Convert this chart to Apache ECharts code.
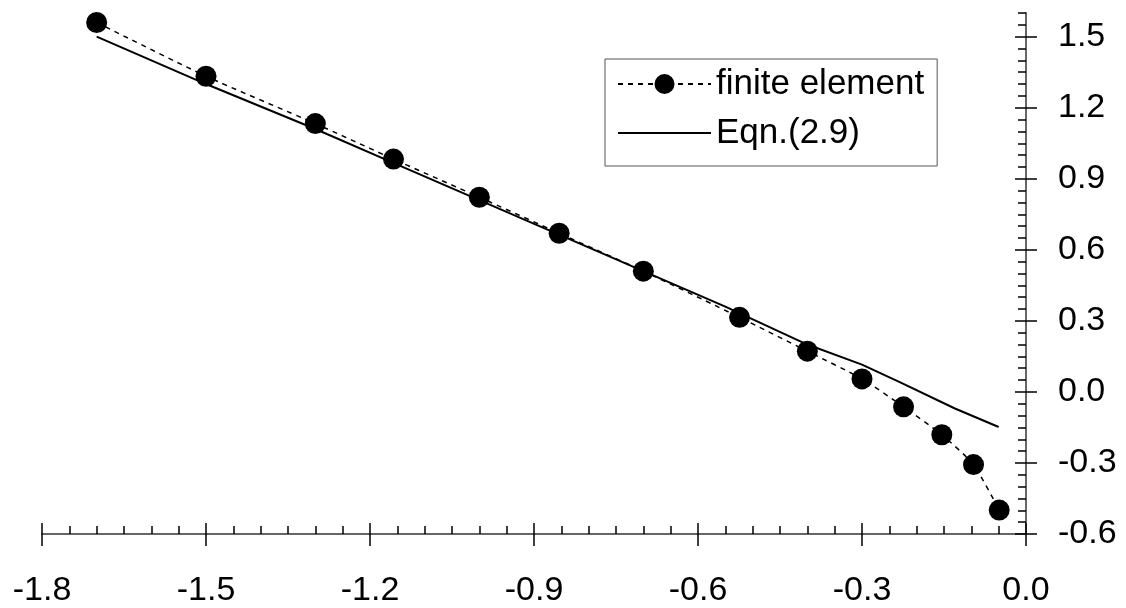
<!DOCTYPE html>
<html>
<head>
<meta charset="utf-8">
<script src="https://cdn.jsdelivr.net/npm/echarts@6/dist/echarts.min.js"></script>
<style>
html, body { margin: 0; padding: 0; background: #fff; }
#main { width: 1126px; height: 608px; }
</style>
</head>
<body>
<div id="main"></div>
<script>
// finite element results (dotted line with dots)
var fe_x = [-1.70, -1.50, -1.30, -1.157, -1.00, -0.854, -0.70, -0.524, -0.40, -0.30, -0.224, -0.154, -0.096, -0.049]
var fe_y = [1.560, 1.333, 1.133, 0.983, 0.822, 0.670, 0.510, 0.315, 0.172, 0.055, -0.063, -0.181, -0.307, -0.499]

// Eqn.(2.9) curve (solid line)
var eq_x = [-1.70, -1.50, -1.30, -1.15, -1.00, -0.85, -0.70, -0.55, -0.40, -0.30, -0.23, -0.13, -0.05]
var eq_y = [1.50, 1.30, 1.11, 0.96, 0.81, 0.66, 0.51, 0.36, 0.20, 0.115, 0.04, -0.07, -0.148]

// major tick values
var x_ticks = [-1.8, -1.5, -1.2, -0.9, -0.6, -0.3, 0.0]
var y_ticks = [-0.6, -0.3, 0.0, 0.3, 0.6, 0.9, 1.2, 1.5]

var font = 'Liberation Sans, Arial, sans-serif'

function pairs(xs, ys) {
    var out = []
    for (var i = 0; i < xs.length; i++) {
        out.push([xs[i], ys[i]])
    }
    return out
}

function fmt(v) {
    return (Math.abs(v) < 1e-9 ? 0 : v).toFixed(1)
}

function x_axis(extra) {
    var a = {
        type: 'value',
        min: -1.8,
        max: 0,
        position: 'bottom',
        axisLine: { show: false, onZero: false },
        axisTick: { show: false },
        axisLabel: { show: false },
        splitLine: { show: false }
    }
    return Object.assign(a, extra)
}

function y_axis(extra) {
    var a = {
        type: 'value',
        min: -0.6,
        max: 1.6,
        position: 'right',
        axisLine: { show: false, onZero: false },
        axisTick: { show: false },
        axisLabel: { show: false },
        splitLine: { show: false }
    }
    return Object.assign(a, extra)
}

var myChart = echarts.init(document.getElementById('main'))

var option = {
    backgroundColor: '#fff',
    animation: false,
    grid: { left: 42, right: 100, top: 13, bottom: 74 },
    legend: {
        orient: 'vertical',
        left: 605,
        top: 59,
        padding: [5, 13, 13, 12],
        itemWidth: 93,
        itemHeight: 25,
        itemGap: 9,
        borderColor: '#555',
        borderWidth: 1,
        textStyle: { fontFamily: font, fontSize: 35, color: '#000', lineHeight: 40 },
        data: [
            'finite element',
            { name: 'Eqn.(2.9)', itemStyle: { color: 'rgba(0,0,0,0)', borderWidth: 0 } }
        ]
    },
    xAxis: [
        // minor ticks + axis line
        x_axis({
            interval: 0.05,
            axisLine: { show: true, onZero: false, lineStyle: { color: '#666', width: 2 } },
            axisTick: { show: true, inside: true, length: 8, lineStyle: { color: '#000', width: 1.5 } }
        }),
        // major ticks, upper half
        x_axis({
            axisTick: { show: true, inside: true, length: 11, customValues: x_ticks, lineStyle: { color: '#000', width: 1.5 } }
        }),
        // major ticks, lower half + labels
        x_axis({
            axisTick: { show: true, inside: false, length: 12, customValues: x_ticks, lineStyle: { color: '#000', width: 1.5 } },
            axisLabel: {
                show: true, customValues: x_ticks, margin: 40,
                fontFamily: font, fontSize: 34, color: '#000', formatter: fmt
            }
        })
    ],
    yAxis: [
        y_axis({
            interval: 0.05,
            axisLine: { show: true, onZero: false, lineStyle: { color: '#666', width: 2 } },
            axisTick: { show: true, inside: true, length: 8, lineStyle: { color: '#000', width: 1.5 } }
        }),
        y_axis({
            axisTick: { show: true, inside: true, length: 11, customValues: y_ticks, lineStyle: { color: '#000', width: 1.5 } }
        }),
        y_axis({
            axisTick: { show: true, inside: false, length: 11, customValues: y_ticks, lineStyle: { color: '#000', width: 1.5 } },
            axisLabel: {
                show: true, customValues: y_ticks, margin: 32,
                formatter: function (v) { return '{a|' + fmt(v) + '}' },
                rich: {
                    a: { width: 62, align: 'left', fontFamily: font, fontSize: 34, color: '#000' }
                }
            }
        })
    ],
    series: [
        {
            name: 'finite element',
            type: 'line',
            xAxisIndex: 0,
            yAxisIndex: 0,
            symbol: 'circle',
            symbolSize: 21,
            smooth: 0.2,
            itemStyle: { color: '#000' },
            lineStyle: { color: '#000', width: 1.5, type: [5, 5] },
            data: pairs(fe_x, fe_y)
        },
        {
            name: 'Eqn.(2.9)',
            type: 'line',
            xAxisIndex: 0,
            yAxisIndex: 0,
            symbol: 'none',
            itemStyle: { color: '#000' },
            lineStyle: { color: '#000', width: 2 },
            data: pairs(eq_x, eq_y)
        }
    ]
}

myChart.setOption(option)
</script>
</body>
</html>
